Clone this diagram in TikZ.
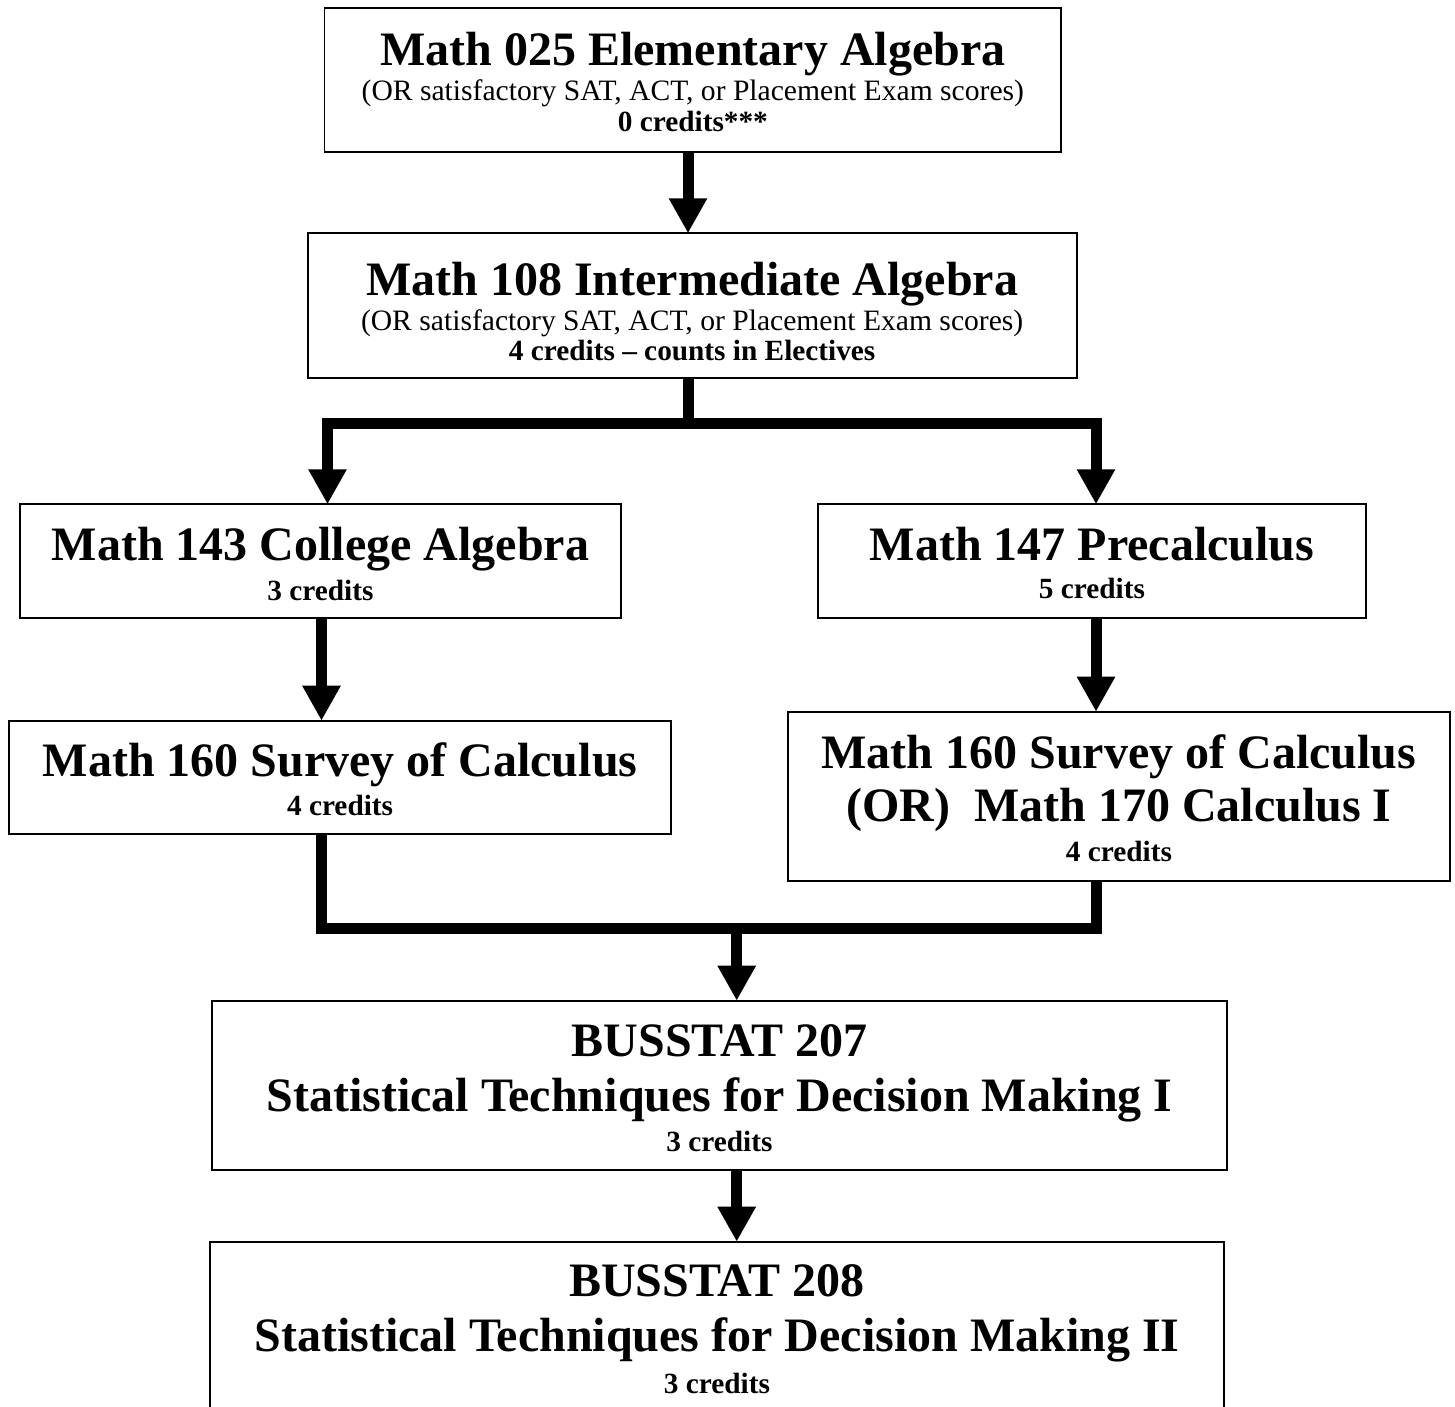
\documentclass[tikz,border=0pt]{standalone}
\usepackage{fontspec}
\setmainfont{Liberation Serif}
\usetikzlibrary{arrows.meta}
\tikzset{
  box/.style={draw=black, line width=1.8pt, rectangle, inner sep=0pt, outer sep=0pt},
  ttl/.style={font=\fontsize{48}{55}\selectfont\bfseries, anchor=base, inner sep=0pt},
  subt/.style={font=\fontsize{29.6}{33}\selectfont, anchor=base, inner sep=0pt},
  cred/.style={font=\fontsize{29.3}{33}\selectfont\bfseries, anchor=base, inner sep=0pt},
  thk/.style={line width=11pt, line join=miter},
  arr/.style={thk, -{Triangle[length=35pt,width=36pt]}},
}
\begin{document}
\begin{tikzpicture}[x=1pt,y=-1pt]
\useasboundingbox (0,0) rectangle (1455,1406);
\clip (0,0) rectangle (1455,1406);

% boxes
\node[box, minimum width=736.7pt, minimum height=144pt]   (b1) at (692.85,80.3) {};
\node[box, minimum width=768.9pt, minimum height=144.7pt] (b2) at (692.15,305.65) {};
\node[box, minimum width=600.7pt, minimum height=113.4pt] (b3) at (320.45,561) {};
\node[box, minimum width=547.9pt, minimum height=113.4pt] (b4) at (1091.95,561) {};
\node[box, minimum width=661.9pt, minimum height=113.6pt] (b5) at (340.05,777.5) {};
\node[box, minimum width=661.6pt, minimum height=169.3pt] (b6) at (1118.9,796.35) {};
\node[box, minimum width=1014.4pt, minimum height=169.3pt] (b7) at (719.5,1085.35) {};
\node[box, minimum width=1014pt, minimum height=169.3pt]  (b8) at (717,1326.35) {};

% texts
\node[ttl]  (t1a) at (692.85,65) {Math 025 Elementary Algebra};
\node[subt] (t1b) at (692.85,100) {(OR satisfactory SAT, ACT, or Placement Exam scores)};
\node[cred] (t1c) at (692.85,131.7) {0 credits***};

\node[ttl]  (t2a) at (692.15,295) {Math 108 Intermediate Algebra};
\node[subt] (t2b) at (692.15,330) {(OR satisfactory SAT, ACT, or Placement Exam scores)};
\node[cred] (t2c) at (692.15,360) {4 credits -- counts in Electives};

\node[ttl]  (t3a) at (320.45,560) {Math 143 College Algebra};
\node[cred] (t3b) at (320.45,600) {3 credits};

\node[ttl]  (t4a) at (1091.95,560) {Math 147 Precalculus};
\node[cred] (t4b) at (1091.95,598) {5 credits};

\node[ttl]  (t5a) at (340.05,776) {Math 160 Survey of Calculus};
\node[cred] (t5b) at (340.05,815) {4 credits};

\node[ttl]  (t6a) at (1118.9,768.3) {Math 160 Survey of Calculus};
\node[ttl]  (t6b) at (1118.9,821.7) {(OR)~~Math 170 Calculus I};
\node[cred] (t6c) at (1118.9,861.7) {4 credits};

\node[ttl]  (t7a) at (719.5,1056.7) {BUSSTAT 207};
\node[ttl]  (t7b) at (719.5,1111.7) {Statistical Techniques for Decision Making I};
\node[cred] (t7c) at (719.5,1151.7) {3 credits};

\node[ttl]  (t8a) at (717,1296.7) {BUSSTAT 208};
\node[ttl]  (t8b) at (717,1351.7) {Statistical Techniques for Decision Making II};
\node[cred] (t8c) at (717,1393) {3 credits};

% connector guides
\coordinate (xa) at (688,0);
\coordinate (xL) at (327.5,0);
\coordinate (xR) at (1096,0);
\coordinate (xL2) at (321.5,0);
\coordinate (xm) at (736.7,0);
\coordinate (bar1) at (0,423);
\coordinate (bar2) at (0,928);

% connectors
\draw[arr] (b1.south -| xa) -- (b2.north -| xa);
\draw[thk] (b2.south -| xa) -- (xa |- bar1);
\draw[arr] (xa |- bar1) -| (b3.north -| xL);
\draw[arr] (xa |- bar1) -| (b4.north -| xR);
\draw[arr] (b3.south -| xL2) -- (b5.north -| xL2);
\draw[arr] (b4.south -| xR) -- (b6.north -| xR);
\draw[thk] (b5.south -| xL2) |- (xR |- bar2) -- (b6.south -| xR);
\draw[arr] (xm |- bar2) -- (b7.north -| xm);
\draw[arr] (b7.south -| xm) -- (b8.north -| xm);
\end{tikzpicture}
\end{document}
